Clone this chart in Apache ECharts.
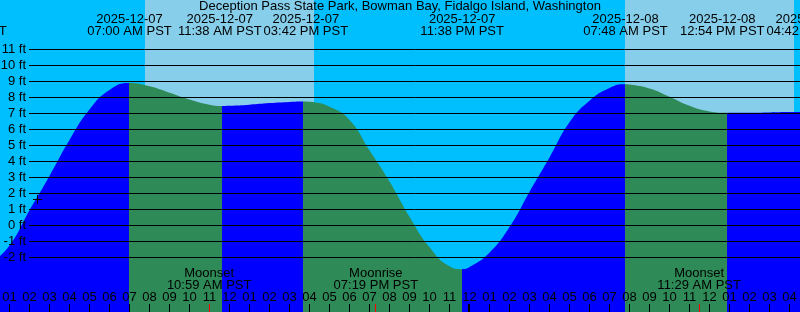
<!DOCTYPE html>
<html><head><meta charset="utf-8">
<script src="https://cdn.jsdelivr.net/npm/echarts@6/dist/echarts.min.js"></script>
<style>html,body{margin:0;padding:0;background:#00BFFF}#c{width:800px;height:312px}</style>
</head><body><div id="c"></div>
<script>
// ---- data (hours since 2025-12-07 00:00 PST, heights in ft) ----
const chartTitle = 'Deception Pass State Park, Bowman Bay, Fidalgo Island, Washington';
const tideHours = [0, 1, 2, 3, 4, 5, 6, 7, 8, 9, 10, 11, 11.633, 12, 13, 14, 15, 15.7, 16, 17, 18, 19, 20, 21, 22, 23, 23.633, 24, 25, 26, 27, 28, 29, 30, 31, 31.8, 32, 33, 34, 35, 36, 36.9, 38, 39, 40, 40.7, 41];
const tideFeet  = [-2.45, -1.25, 0.95, 3.1, 5.35, 7.25, 8.47, 8.9, 8.7, 8.3, 7.88, 7.55, 7.47, 7.48, 7.55, 7.65, 7.72, 7.75, 7.73, 7.42, 6.6, 4.7, 2.75, 0.55, -1.35, -2.55, -2.73, -2.6, -1.7, -0.1, 2.1, 4.25, 6.45, 7.8, 8.6, 8.83, 8.81, 8.57, 8.05, 7.48, 7.13, 7.04, 7.05, 7.07, 7.09, 7.1, 7.1];
const extremaHours = [-1.25, 7.0, 11.633, 15.7, 23.633, 31.8, 36.9, 40.7];
const extremaKinds = ['low', 'high', 'low', 'high', 'low', 'high', 'low', 'high'];
const extremaDates = ['2025-12-06', '2025-12-07', '2025-12-07', '2025-12-07', '2025-12-07', '2025-12-08', '2025-12-08', '2025-12-08'];
const extremaTimes = ['10:45 PM PST', '07:00 AM PST', '11:38 AM PST', '03:42 PM PST', '11:38 PM PST', '07:48 AM PST', '12:54 PM PST', '04:42 PM PST'];
const sunriseHours = [7.783, 31.783];
const sunsetHours = [16.233, 40.233];
const moonHours = [10.983, 19.317, 35.483];
const moonEvents = ['Moonset', 'Moonrise', 'Moonset'];
const moonTimes = ['10:59 AM PST', '07:19 PM PST', '11:29 AM PST'];
const midnightHours = [24];
const markPoint = [2.4, 1.65];
const hourRange = [0, 41];
const feetRange = [-2, 11];

// ---- style ----
const FONT = '13px "Liberation Sans"';
const C_NIGHT = '#00BFFF', C_DAY = '#87CEEB', C_RISE = '#0000FF', C_FALL = '#2E8B57';

const mctx = document.createElement('canvas').getContext('2d');
mctx.font = FONT;
const measure = t => mctx.measureText(t).width;

function spreadCenters(api) {
  const cs = extremaHours.map(h => api.coord([h, 0])[0]);
  const ws = extremaTimes.map((t, i) => Math.max(measure(t), measure(extremaDates[i])));
  for (let i = 0; i < cs.length - 1; i++) {
    const gap = (cs[i + 1] - ws[i + 1] / 2) - (cs[i] + ws[i] / 2);
    if (gap < 2) { const s = (2 - gap) / 2; cs[i] -= s; cs[i + 1] += s; }
  }
  return cs;
}

// visual pieces: rising after a low, falling after a high
const pieces = [{ lt: extremaHours[0], color: extremaKinds[0] === 'low' ? C_FALL : C_RISE }];
for (let i = 0; i < extremaHours.length; i++) {
  const p = { gte: extremaHours[i], color: extremaKinds[i] === 'low' ? C_RISE : C_FALL };
  if (i < extremaHours.length - 1) p.lt = extremaHours[i + 1];
  pieces.push(p);
}

const chart = echarts.init(document.getElementById('c'), null, { renderer: 'canvas' });
const txt = (text, x, y) => ({ type: 'text', style: { text, x, y, align: 'center', verticalAlign: 'middle', font: FONT, fill: '#000' } });

chart.setOption({
  backgroundColor: C_NIGHT,
  animation: false,
  title: { text: chartTitle, left: 'center', top: 0, padding: 0,
    textStyle: { fontSize: 13, fontWeight: 'normal', fontFamily: 'Liberation Sans', color: '#000', lineHeight: 13 } },
  grid: [
    { left: -10.5, right: -9.5, top: 0, bottom: 0, containLabel: false, outerBoundsMode: 'none' },
    { left: 29, right: 0, top: 49.5, bottom: 54.5, containLabel: false, outerBoundsMode: 'none' }
  ],
  xAxis: [
    { gridIndex: 0, type: 'value', min: hourRange[0], max: hourRange[1], interval: 1, z: 6, position: 'bottom',
      axisLine: { show: false, onZero: false }, splitLine: { show: false },
      axisTick: { show: true, inside: true, length: 8, lineStyle: { color: '#000', width: 1 } },
      axisLabel: { inside: true, margin: 15, verticalAlign: 'middle', color: '#000', fontSize: 13, fontFamily: 'Liberation Sans',
        formatter: v => { if (v % 1 !== 0) return ''; const k = v % 12 === 0 ? 12 : v % 12; return String(k).padStart(2, '0'); } } },
    { gridIndex: 1, type: 'value', min: 0, max: 1, show: false }
  ],
  yAxis: [
    { gridIndex: 0, type: 'value', min: (225.5 - 312) / 16, max: 225.5 / 16, show: false },
    { gridIndex: 1, type: 'value', min: feetRange[0], max: feetRange[1], interval: 1, z: 5,
      axisLine: { show: false }, axisTick: { show: false },
      splitLine: { show: true, lineStyle: { color: '#000', width: 1 } },
      axisLabel: { margin: 3, color: '#000', fontSize: 13, fontFamily: 'Liberation Sans', formatter: v => v + ' ft' } }
  ],
  visualMap: { show: false, type: 'piecewise', dimension: 0, seriesIndex: 1, pieces },
  series: [
    { type: 'custom', xAxisIndex: 0, yAxisIndex: 0, z: 1,
      data: sunriseHours.map((h, i) => [h, sunsetHours[i]]),
      renderItem: (params, api) => {
        const x0 = Math.round(api.coord([api.value(0), 0])[0]);
        const x1 = Math.round(api.coord([api.value(1), 0])[0]);
        const cs = params.coordSys;
        return { type: 'rect', shape: { x: x0, y: cs.y, width: x1 - x0, height: cs.height }, style: { fill: C_DAY } };
      } },
    { type: 'line', xAxisIndex: 0, yAxisIndex: 0, z: 2, smooth: true, symbol: 'none',
      data: tideHours.map((h, i) => [h, tideFeet[i]]),
      lineStyle: { width: 0 }, areaStyle: { opacity: 1, origin: 'start' } },
    { type: 'custom', xAxisIndex: 0, yAxisIndex: 0, z: 10,
      data: extremaHours.map(h => [h, 0]),
      renderItem: (params, api) => {
        const i = params.dataIndex; const cs = spreadCenters(api);
        return { type: 'group', children: [txt(extremaDates[i], cs[i], 19.5), txt(extremaTimes[i], cs[i], 31.2)] };
      } },
    { type: 'custom', xAxisIndex: 0, yAxisIndex: 0, z: 10,
      data: moonHours.map(h => [h, 0]),
      renderItem: (params, api) => {
        const i = params.dataIndex; const x = api.coord([api.value(0), 0])[0];
        const xt = Math.floor(x) + 0.5;
        return { type: 'group', children: [
          txt(moonEvents[i], x, 273.8), txt(moonTimes[i], x, 285),
          { type: 'line', shape: { x1: xt, y1: 304, x2: xt, y2: 312 }, style: { stroke: '#FF0000', lineWidth: 1 } }
        ] };
      } },
    { type: 'custom', xAxisIndex: 0, yAxisIndex: 0, z: 10,
      data: midnightHours.map(h => [h, 0]),
      renderItem: (params, api) => {
        const x = Math.floor(api.coord([api.value(0), 0])[0]);
        return { type: 'line', shape: { x1: x, y1: 304, x2: x, y2: 312 }, style: { stroke: '#000', lineWidth: 2 } };
      } },
    { type: 'custom', xAxisIndex: 0, yAxisIndex: 0, z: 10,
      data: [markPoint],
      renderItem: (params, api) => {
        const p = api.coord([api.value(0), api.value(1)]);
        const cx = Math.floor(p[0]) + 0.5, cy = Math.floor(p[1]) + 0.5;
        return { type: 'group', children: [
          { type: 'line', shape: { x1: cx - 4.5, y1: cy, x2: cx + 4.5, y2: cy }, style: { stroke: '#000', lineWidth: 1 } },
          { type: 'line', shape: { x1: cx, y1: cy - 4.5, x2: cx, y2: cy + 4.5 }, style: { stroke: '#000', lineWidth: 1 } }
        ] };
      } }
  ]
});
</script>
</body></html>
